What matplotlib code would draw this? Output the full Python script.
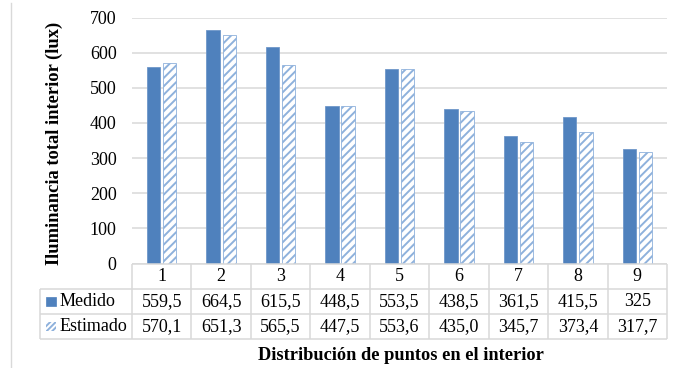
import matplotlib
matplotlib.use("Agg")
import matplotlib.pyplot as plt
from matplotlib.patches import Rectangle
from matplotlib.lines import Line2D

categories = ["1", "2", "3", "4", "5", "6", "7", "8", "9"]
medido = [559.5, 664.5, 615.5, 448.5, 553.5, 438.5, 361.5, 415.5, 325]
estimado = [570.1, 651.3, 565.5, 447.5, 553.6, 435.0, 345.7, 373.4, 317.7]
series_names = ["Medido", "Estimado"]
y_ticks = [0, 100, 200, 300, 400, 500, 600, 700]
y_label = "Iluminancia total interior (lux)"
x_label = "Distribución de puntos en el interior"

W, H = 673, 368
BLUE = "#4F81BD"
LIGHT = "#8EB1DC"
GRID = "#D9D9D9"
FONT = "Liberation Serif"

plt.rcParams["font.family"] = [FONT, "DejaVu Serif"]
plt.rcParams["hatch.linewidth"] = 1.4
plt.rcParams["hatch.color"] = LIGHT

fig = plt.figure(figsize=(W / 100, H / 100), dpi=100)
fig.patch.set_facecolor("white")


def fx(px):
    return px / W


def fy(py):
    return 1 - py / H


plot_l, plot_r, plot_t, plot_b = 132, 667, 17.5, 263.5
ax = fig.add_axes([fx(plot_l), fy(plot_b), fx(plot_r) - fx(plot_l), fy(plot_t) - fy(plot_b)])

n = len(categories)
xs = list(range(n))
bw = 0.225
off = 0.135
ax.bar([x - off for x in xs], medido, width=bw, color=BLUE, edgecolor="#6F97C9",
       linewidth=0.6, zorder=3)
ax.bar([x + off for x in xs], estimado, width=bw, color="white", edgecolor=LIGHT,
       hatch="////", linewidth=0.6, zorder=3)

fs = 13
ax.set_xlim(-0.5, n - 0.5)
ax.set_ylim(0, 700)
ax.set_yticks(y_ticks)
ax.set_yticklabels([str(t) for t in y_ticks], fontsize=fs)
ax.set_xticks([])
ax.tick_params(axis="y", length=0, pad=11)
ax.grid(axis="y", color=GRID, linewidth=1.1, zorder=0)
for s in ax.spines.values():
    s.set_visible(False)
ax.set_facecolor("none")

# data table under the plot
tab_b = 339
tb = fig.add_axes([fx(plot_l), fy(tab_b), fx(plot_r) - fx(plot_l), fy(plot_b) - fy(tab_b)])
tb.set_xlim(-0.5, n - 0.5)
tb.set_ylim(3, 0)
tb.axis("off")

col_w = (plot_r - plot_l) / n
left_edge = -0.5 - (plot_l - 40) / col_w
lkw = dict(color=GRID, linewidth=1.1, clip_on=False, solid_capstyle="butt")
tb.plot([-0.5, n - 0.5], [0, 0], **lkw)
for r in (1, 2, 3):
    tb.plot([left_edge, n - 0.5], [r, r], **lkw)
for i in range(n + 1):
    tb.plot([-0.5 + i, -0.5 + i], [0, 3], **lkw)
tb.plot([left_edge, left_edge], [1, 3], **lkw)


def fmt_med(v):
    return f"{v:g}".replace(".", ",")


def fmt_est(v):
    return f"{v:.1f}".replace(".", ",")


for i, c in enumerate(categories):
    tb.text(i, 0.5, c, ha="center", va="center", fontsize=fs)
    tb.text(i, 1.5, fmt_med(medido[i]), ha="center", va="center", fontsize=fs)
    tb.text(i, 2.5, fmt_est(estimado[i]), ha="center", va="center", fontsize=fs)

# legend keys inside the table
kx = -0.5 - (plot_l - 46) / col_w
kw = 9.5 / col_w
kh = 0.37
tb.add_patch(Rectangle((kx, 1.5 - kh / 2), kw, kh, facecolor=BLUE, edgecolor=BLUE,
                       linewidth=0.5, clip_on=False))
tb.add_patch(Rectangle((kx, 2.5 - kh / 2), kw, kh, facecolor="white", edgecolor=LIGHT,
                       hatch="//////", linewidth=0.0, clip_on=False))
tx = -0.5 - (plot_l - 60) / col_w
tb.text(tx, 1.5, series_names[0], ha="left", va="center", fontsize=fs, clip_on=False)
tb.text(tx, 2.5, series_names[1], ha="left", va="center", fontsize=fs, clip_on=False)

# axis titles
fig.text(fx(54), fy(143.5), y_label, rotation=90, ha="center", va="center",
         fontsize=13.3, fontweight="bold")
fig.text(fx(401), fy(356), x_label, ha="center", va="center",
         fontsize=13.2, fontweight="bold")

# chart area border on the left
fig.add_artist(Line2D([fx(11), fx(11)], [0, fy(3)], color=GRID, linewidth=1.0))

fig.savefig("out.png", dpi=100, facecolor="white")
